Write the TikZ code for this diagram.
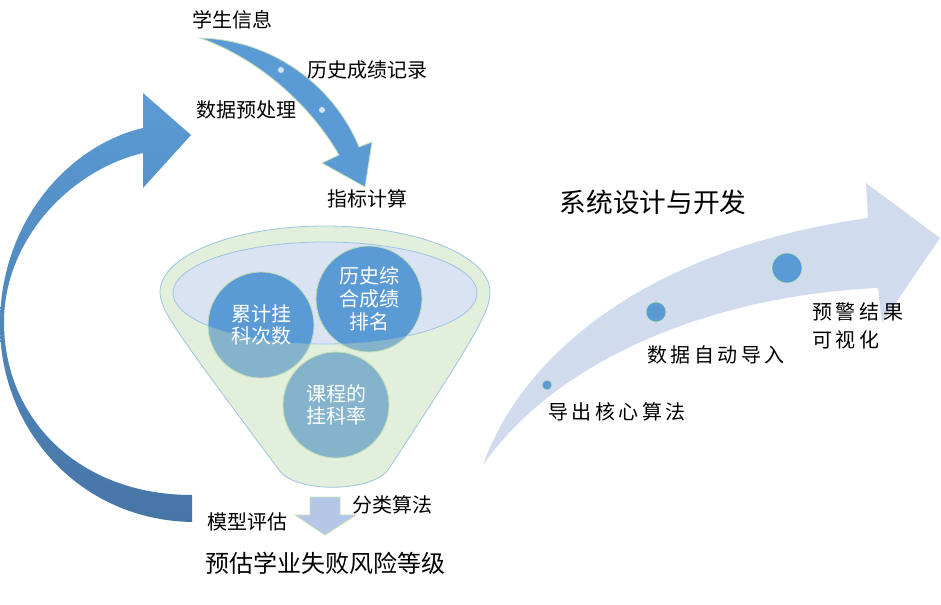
\documentclass[tikz,border=0pt]{standalone}
\usepackage{fontspec}
\setmainfont{Noto Sans CJK SC}
\newfontfamily\spaced[LetterSpace=18]{Noto Sans CJK SC}
\usepackage{tikz}
\usetikzlibrary{positioning}

\definecolor{arrowblue}{HTML}{5B9BD5}
\definecolor{arrowdark}{HTML}{4675A5}
\definecolor{funnelgreen}{HTML}{E2EFDA}
\definecolor{funnelline}{HTML}{9DC3E6}
\definecolor{innerblue}{HTML}{DAE3F3}
\definecolor{bubbleteal}{HTML}{84B3CB}
\definecolor{paleblue}{HTML}{B4C7E7}
\definecolor{trackblue}{HTML}{D0DCEE}
\definecolor{rimgreen}{HTML}{C5E0B4}
\definecolor{dotpale}{HTML}{D6E4F0}

\begin{document}
\begin{tikzpicture}[
    x=0.75pt, y=-0.75pt,
    lbl/.style={inner sep=0pt, font=\fontsize{15}{18}\selectfont},
    widelbl/.style={inner sep=0pt, font=\spaced\fontsize{15}{21}\selectfont},
    biglbl/.style={inner sep=0pt, font=\fontsize{18}{22}\selectfont},
    titlelbl/.style={inner sep=0pt, font=\fontsize{20}{24}\selectfont},
    funnel/.style={fill=funnelgreen, draw=funnelline, line width=0.6pt},
    innerbowl/.style={fill=innerblue, draw=funnelline, line width=0.6pt},
    bubble/.style={circle, minimum size=79.5pt, inner sep=0pt, fill=bubbleteal, draw=rimgreen, line width=0.6pt, text=white, align=center, font=\fontsize{15}{17}\selectfont, path picture={\fill[arrowblue] (bowl) ellipse [x radius=152, y radius=51];}},
    dot/.style={circle, inner sep=0pt, fill=arrowblue, draw=rimgreen, line width=0.5pt},
    smalldot/.style={circle, inner sep=0pt, minimum size=4.5pt, fill=dotpale},
    flowarrow/.style={fill=arrowblue, draw=rimgreen, line width=0.6pt},
    downarrow/.style={fill=paleblue, draw=rimgreen, line width=0.6pt}
]
\useasboundingbox (0,0) rectangle (941,605);

\shade[top color=arrowblue, bottom color=arrowdark] (192,522) .. controls (80,520) and (0,430) .. (0,325) .. controls (0,220) and (70,145) .. (143,128) -- (143,93) -- (191,135) -- (143,188) -- (143,153) .. controls (70,170) and (4,240) .. (4,322) .. controls (4,420) and (80,495) .. (192,495) -- cycle;

\filldraw[flowarrow] (200,38) .. controls (275,40) and (335,88) .. (359,147) -- (372,142) -- (365,187) -- (322,163) -- (339,155) .. controls (312,108) and (262,60) .. (200,38) -- cycle;
\node[smalldot] (fd1) at (281,70) {};
\node[smalldot] (fd2) at (322,110) {};

\coordinate (bowl) at (325,293);
\filldraw[funnel] (160,292) arc[start angle=180, end angle=360, x radius=165, y radius=66] .. controls (490,310) and (480,330) .. (388,470) .. controls (370,493) and (295,493) .. (279,470) .. controls (175,330) and (160,310) .. (160,292) -- cycle;
\filldraw[innerbowl] (bowl) ellipse [x radius=152, y radius=51];

\node[bubble] (ljgk) at (261,325) {累计挂\\科次数};
\node[bubble] (lszh) at (369,299) {历史综\\合成绩\\排名};
\node[bubble] (kcgk) at (336,405) {课程的\\挂科率};

\filldraw[downarrow] (310,497) -- (340,497) -- (340,515) -- (356,515) -- (325,535) -- (295,515) -- (310,515) -- cycle;

\fill[trackblue] (483,465) .. controls (520,360) and (640,250) .. (868,218) -- (866,183) -- (940,238) -- (882,323) -- (878,288) .. controls (720,295) and (560,355) .. (483,465) -- cycle;
\node[dot, minimum size=7.5pt] (sd1) at (547,385) {};
\node[dot, minimum size=15pt] (sd2) at (656,312) {};
\node[dot, minimum size=22.5pt] (sd3) at (787,268) {};

\node[lbl] (xsxx) at (232,20) {学生信息};
\node[lbl] (lscj) at (367,70) {历史成绩记录};
\node[lbl] (sjycl) at (246,110) {数据预处理};
\node[lbl] (zbjs) at (367,199) {指标计算};
\node[titlelbl] (xtsj) at (653,202) {系统设计与开发};
\node[widelbl, align=left, anchor=west] (yjjg) at (812,326) {预警结果\\可视化};
\node[widelbl] (sjzd) at (716,355) {数据自动导入};
\node[widelbl] (dchx) at (617,412) {导出核心算法};
\node[lbl] (flsf) at (392,505) {分类算法};
\node[lbl] (mxpg) at (247,522) {模型评估};
\node[biglbl] (ygxy) at (325,563) {预估学业失败风险等级};
\end{tikzpicture}
\end{document}
